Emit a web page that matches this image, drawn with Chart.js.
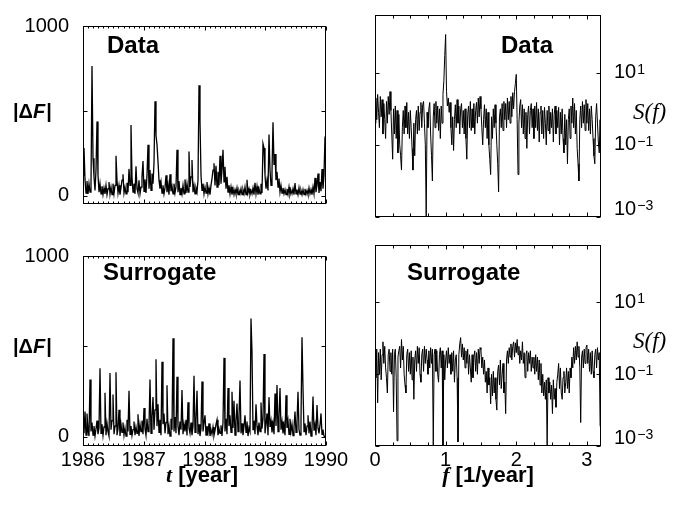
<!DOCTYPE html>
<html><head><meta charset="utf-8">
<script src="https://cdn.jsdelivr.net/npm/chart.js@4/dist/chart.umd.min.js"></script>
<style>
html,body{margin:0;padding:0;background:#fff;}
#wrap{position:relative;width:688px;height:506px;overflow:hidden;background:#fff;}
canvas{position:absolute;}
</style></head><body>
<div id="wrap">
<canvas id="tl" width="370" height="230" style="left:0;top:0;width:370px;height:230px"></canvas>
<canvas id="bl" width="370" height="276" style="left:0;top:230px;width:370px;height:276px"></canvas>
<canvas id="tr" width="344" height="230" style="left:344px;top:0;width:344px;height:230px"></canvas>
<canvas id="br" width="344" height="276" style="left:344px;top:230px;width:344px;height:276px"></canvas>
</div>
<script>
// ---------------- data ----------------
const T_START = 1986, T_END = 1990;
const YEAR_TICKS = [1986, 1987, 1988, 1989, 1990];
const DF_TICKS = [0, 500, 1000];
const F_MAX = 3.2;
const F_TICKS = [0, 1, 2, 3];
const S_TICKS = [1e-3, 1e-1, 1e1];

// |ΔF| of the data (evenly spaced in time from 1986 to 1990)
const dataAbsDF = [
120,280,95,15,85,10,70,20,60,764,
220,110,30,150,437,120,20,70,10,55,
5,45,10,60,5,40,80,8,50,5,
70,10,60,234,90,15,60,5,45,90,
125,15,50,10,75,20,157,60,416,110,
20,70,10,172,40,15,90,10,50,110,
203,25,95,15,120,300,40,150,30,130,
70,190,556,354,300,200,90,40,80,15,
60,10,45,120,20,65,5,125,25,55,
10,70,15,50,270,20,85,5,45,10,
60,10,95,15,70,20,260,50,110,210,
20,60,10,45,20,90,650,437,120,30,
70,10,50,15,80,10,45,5,60,100,
150,190,60,175,50,140,60,234,70,150,
270,80,170,40,110,20,60,10,50,5,
40,5,35,8,45,5,30,10,40,5,
35,10,50,5,93,15,40,5,30,10,
45,5,75,10,55,5,40,10,70,15,
306,280,120,40,90,30,360,150,60,140,
432,180,245,90,140,50,100,20,60,15,
45,10,35,5,40,8,50,5,30,10,
40,5,73,10,35,5,45,8,30,5,
35,5,40,8,30,5,45,10,35,5,
50,10,104,20,60,130,15,80,25,156,
40,120,348,180];

// |ΔF| of the surrogate
const surrogateAbsDF = [
60,20,140,10,130,40,5,317,30,80,
10,60,5,45,90,15,50,380,20,70,
8,55,244,10,75,30,5,353,40,90,
235,15,60,358,10,45,150,5,70,25,
80,10,50,5,95,30,255,15,60,8,
40,85,10,55,20,125,5,70,30,90,
15,160,45,8,100,30,60,317,20,110,
220,40,150,430,60,180,25,95,10,416,
70,130,20,80,286,15,60,5,100,40,
546,30,110,20,333,60,10,85,40,260,
15,70,30,95,8,192,50,20,80,10,
60,338,25,90,255,15,70,5,45,307,
30,80,120,10,60,25,75,5,40,15,
55,8,35,70,95,10,45,20,65,5,
80,437,30,100,15,270,60,120,25,250,
50,200,10,90,185,30,110,312,20,75,
10,60,120,25,85,5,50,30,655,468,
40,90,15,180,60,10,80,30,190,45,
100,458,20,70,130,10,220,55,90,25,
75,15,240,60,287,30,110,270,40,85,
20,65,10,230,50,90,15,100,30,70,
8,55,140,25,80,250,40,10,95,551,
270,30,75,10,60,120,20,85,5,45,
224,35,70,10,177,50,20,65,130,15,
40,5,2,0];

// S(f) of the data (evenly spaced in f from 0 to 3.2, step 0.0125)
const dataS = [
0.4,2.0,0.5,2.5,0.8,0.3,2.2,0.6,1.8,0.2,1.4,0.5,0.15,1.6,0.4,2.2,0.7,3.0,0.9,0.2,
0.04,1.0,0.2,1.2,0.15,0.9,0.06,0.7,0.1,0.05,0.02,0.3,0.9,0.2,1.2,0.3,1.5,0.2,0.8,0.15,
0.9,0.3,0.08,0.02,0.4,0.05,0.5,0.9,0.2,1.2,0.25,0.8,1.5,0.3,1.3,1.6,0.4,0.1,0.001,0.8,
0.3,1.0,1.5,0.2,0.05,0.01,0.6,1.4,0.3,1.6,0.4,1.2,0.25,1.0,0.15,1.2,0.4,2.5,6.0,30,
115,3.0,1.2,2.0,0.8,1.5,0.3,0.1,0.6,0.07,0.5,1.3,0.3,1.8,0.4,1.2,0.2,1.0,1.4,0.3,
0.9,0.2,1.0,0.15,0.04,0.7,1.2,0.3,1.6,0.25,1.0,0.3,1.4,0.2,0.9,1.5,0.4,2.0,0.6,2.2,
1.0,0.3,0.1,0.5,1.3,0.3,1.0,0.15,0.8,0.1,0.04,0.015,0.6,0.15,1.0,0.3,1.3,0.4,0.1,0.03,
0.005,0.6,1.0,0.3,1.4,0.25,1.6,0.5,1.4,0.3,2.0,0.5,1.6,0.4,2.2,0.6,2.8,1.0,3.0,5.0,
9.0,0.5,0.015,0.4,1.2,1.8,0.3,1.3,0.2,1.0,0.15,0.8,0.08,0.7,1.2,0.2,0.9,1.4,0.3,1.0,
0.15,1.2,0.3,1.5,0.25,1.0,0.12,0.8,1.2,0.2,0.9,0.15,1.1,0.4,0.1,0.9,0.25,1.2,0.2,0.8,
0.3,1.0,0.12,0.7,1.2,0.2,0.9,0.3,1.1,0.1,0.8,0.2,1.0,0.15,0.06,0.7,0.1,0.5,0.03,0.5,
1.0,0.15,1.2,0.4,2.0,0.3,1.4,0.2,0.9,0.08,0.03,0.01,0.5,1.2,0.3,1.6,0.4,1.3,0.25,1.8,
0.4,1.4,0.25,1.0,0.2,1.2,0.5,0.15,0.05,0.03,0.6,1.4,0.4,0.12,0.06,0.5,0.015];

// S(f) of the surrogate
const surrogateS = [
0.3,0.08,0.5,0.016,0.4,0.1,0.5,0.07,0.35,0.8,0.2,0.6,0.15,0.08,0.03,0.35,0.5,0.12,0.4,0.1,
0.5,0.009,0.35,0.5,0.08,0.0014,0.3,0.45,0.6,0.15,0.93,0.25,0.6,0.1,0.05,0.03,0.35,0.5,0.12,0.4,
0.1,0.45,0.07,0.3,0.02,0.25,0.45,0.12,0.6,0.2,0.55,0.1,0.06,0.35,0.5,0.12,0.6,0.2,0.5,0.25,
0.1,0.45,0.15,0.55,0.2,0.5,0.001,0.35,0.5,0.12,0.45,0.1,0.06,0.35,0.55,0.15,0.45,0.001,0.35,0.07,
0.25,0.45,0.15,0.55,0.2,0.35,0.1,0.4,0.12,0.45,0.06,0.25,0.35,0.08,0.0013,0.35,0.7,1.05,0.3,0.7,
0.25,0.55,0.15,0.45,0.2,0.5,0.1,0.35,0.15,0.06,0.35,0.08,0.3,0.45,0.12,0.4,0.1,0.5,0.2,0.55,
0.49,0.15,0.3,0.1,0.25,0.06,0.12,0.03,0.15,0.05,0.08,0.015,0.1,0.025,0.12,0.03,0.08,0.02,0.01,0.12,
0.18,0.05,0.25,0.04,0.1,0.2,0.03,0.06,0.008,0.25,0.45,0.2,0.55,0.3,0.7,0.25,0.6,0.8,0.3,0.75,
0.4,0.93,0.35,0.6,0.2,0.45,0.25,0.8,0.2,0.4,0.08,0.35,0.45,0.12,0.4,0.2,0.45,0.12,0.3,0.15,
0.3,0.1,0.35,0.12,0.3,0.07,0.25,0.05,0.2,0.03,0.1,0.025,0.06,0.02,0.07,0.001,0.08,0.03,0.06,0.02,
0.05,0.008,0.07,0.02,0.04,0.012,0.06,0.1,0.2,0.04,0.15,0.03,0.02,0.08,0.12,0.03,0.06,0.15,0.04,0.12,
0.03,0.15,0.08,0.3,0.15,0.55,0.2,0.6,0.25,0.8,0.3,0.6,0.15,0.0045,0.3,0.45,0.15,0.5,0.2,0.55,
0.65,0.2,0.5,0.12,0.4,0.1,0.45,0.12,0.08,0.35,0.5,0.15,0.55,0.25,0.4,0.0037,0.003];

// ---------------- rendering ----------------
const SANS = '"Liberation Sans", Arial, Helvetica, sans-serif';
const SERIF = '"Liberation Serif", "Times New Roman", serif';

function drawParts(ctx, parts, x, y, align) {
  let w = 0;
  for (const p of parts) { ctx.font = p.font; w += ctx.measureText(p.t).width + (p.dx || 0); }
  let cx = align === 'center' ? x - w / 2 : (align === 'right' ? x - w : x);
  for (const p of parts) {
    ctx.font = p.font;
    ctx.fillText(p.t, cx + (p.dx || 0), y + (p.dy || 0));
    cx += ctx.measureText(p.t).width + (p.dx || 0);
  }
}

const panelDecor = {
  id: 'panelDecor',
  afterDraw(chart, args, o) {
    const ctx = chart.ctx, a = chart.chartArea, xs = chart.scales.x, ys = chart.scales.y;
    ctx.save();
    ctx.strokeStyle = '#000';
    ctx.lineWidth = 1;
    const L = Math.round(a.left) + 0.5, R = Math.round(a.right) - 0.5;
    const T = Math.round(a.top) + 0.5, B = Math.round(a.bottom) - 0.5;
    ctx.beginPath();
    for (const t of o.xTicks) {
      const px = Math.round(xs.getPixelForValue(t.v)) + 0.5;
      const len = t.major ? o.xMajorLen : o.xMinorLen;
      ctx.moveTo(px, B); ctx.lineTo(px, B - len);
      ctx.moveTo(px, T); ctx.lineTo(px, T + len);
    }
    for (const v of o.yTicks) {
      const py = Math.round(ys.getPixelForValue(v)) + 0.5;
      ctx.moveTo(L, py); ctx.lineTo(L + o.yLen, py);
      ctx.moveTo(R, py); ctx.lineTo(R - o.yLen, py);
    }
    ctx.stroke();
    ctx.strokeRect(L, T, R - L, B - T);
    ctx.fillStyle = '#000';
    ctx.textBaseline = 'alphabetic';
    ctx.textAlign = 'left';
    for (const tx of o.texts) {
      let y = tx.y;
      if (tx.yValue !== undefined) y = ys.getPixelForValue(tx.yValue) + tx.dy;
      drawParts(ctx, tx.parts, tx.x, y, tx.align || 'left');
    }
    if (o.powerLabels) {
      for (const v of o.powerLabels) {
        const py = Math.min(ys.getPixelForValue(v), a.bottom - 8);
        const e = Math.round(Math.log10(v));
        const x0 = a.right + 13;
        ctx.font = '20px ' + SANS;
        ctx.textBaseline = 'middle';
        ctx.fillText('10', x0, py);
        const w = ctx.measureText('10').width;
        ctx.font = '14px ' + SANS;
        ctx.textBaseline = 'alphabetic';
        ctx.fillText(e < 0 ? '\u2212' + (-e) : String(e), x0 + w + 1, py + 1);
      }
    }
    ctx.restore();
  }
};

function timeTicks() {
  const out = [];
  const n = (T_END - T_START) * 12;
  for (let m = 0; m <= n; m++) out.push({ v: T_START + m / 12, major: m % 12 === 0 });
  return out;
}
function freqTicks() {
  const out = [];
  for (let k = 0; k * 0.25 <= F_MAX + 1e-9; k++) out.push({ v: k * 0.25, major: k % 4 === 0 });
  return out;
}

function absLabel() {
  return [
    { t: '|', font: 'bold 20px ' + SANS },
    { t: '\u0394', font: 'bold 20px ' + SANS },
    { t: 'F', font: 'italic bold 20px ' + SANS },
    { t: '|', font: 'bold 20px ' + SANS, dx: 1 }
  ];
}
function sLabel() {
  return [{ t: 'S(f)', font: 'italic 23px ' + SERIF }];
}

function timeChart(id, values, bottomPanel, title) {
  const n = values.length;
  const pts = values.map((v, i) => ({ x: T_START + i * (T_END - T_START) / (n - 1), y: v }));
  const texts = [
    { parts: [{ t: title, font: 'bold 24px ' + SANS }], x: bottomPanel ? 103 : 107, y: bottomPanel ? 50 : 53 },
    { parts: absLabel(), x: 13, yValue: 500, dy: 7 }
  ];
  if (bottomPanel) {
    texts.push({ parts: [
      { t: 't', font: 'italic bold 22px ' + SERIF },
      { t: ' [year]', font: 'bold 22px ' + SANS }
    ], x: 202, y: 252, align: 'center' });
  }
  return new Chart(document.getElementById(id), {
    type: 'line',
    data: { datasets: [{ data: pts, borderColor: '#000', borderWidth: 1.3, pointRadius: 0, tension: 0, fill: false }] },
    options: {
      responsive: false, animation: false, devicePixelRatio: 1,
      layout: { padding: { left: 0, top: 15, right: 370 - 326, bottom: 0 } },
      plugins: {
        legend: { display: false }, tooltip: { enabled: false },
        panelDecor: { xTicks: timeTicks(), xMajorLen: 4, xMinorLen: 2, yTicks: DF_TICKS, yLen: 4, texts }
      },
      scales: {
        x: {
          type: 'linear', min: T_START, max: T_END,
          afterBuildTicks: s => { s.ticks = YEAR_TICKS.map(v => ({ value: v })); },
          ticks: { display: bottomPanel, color: '#000', font: { family: SANS, size: 20 }, padding: 2, maxRotation: 0, autoSkip: false, callback: v => String(v) },
          grid: { display: false, drawTicks: false }, border: { display: false },
          afterFit: s => { s.height = bottomPanel ? 276 - 216 : 230 - 217; }
        },
        y: {
          type: 'linear', min: -50, max: 1000,
          afterBuildTicks: s => { s.ticks = DF_TICKS.map(v => ({ value: v })); },
          ticks: { color: '#000', font: { family: SANS, size: 20 }, padding: 14, callback: v => (v === 500 ? '' : String(v)) },
          grid: { display: false, drawTicks: false }, border: { display: false },
          afterFit: s => { s.width = 83; }
        }
      }
    },
    plugins: [panelDecor]
  });
}

function specChart(id, values, bottomPanel, title) {
  const n = values.length;
  const pts = values.map((v, i) => ({ x: i * F_MAX / (n - 1), y: v }));
  const texts = [
    { parts: [{ t: title, font: 'bold 24px ' + SANS }], x: bottomPanel ? 63 : 157, y: bottomPanel ? 50 : 53 },
    { parts: sLabel(), x: 289, yValue: 1, dy: 10 }
  ];
  if (bottomPanel) {
    texts.push({ parts: [
      { t: 'f', font: 'italic bold 22px ' + SERIF },
      { t: ' [1/year]', font: 'bold 22px ' + SANS }
    ], x: 144, y: 252, align: 'center' });
  }
  return new Chart(document.getElementById(id), {
    type: 'line',
    data: { datasets: [{ data: pts, borderColor: '#000', borderWidth: 1, pointRadius: 0, tension: 0, fill: false }] },
    options: {
      responsive: false, animation: false, devicePixelRatio: 1,
      layout: { padding: { left: 31, top: 15, right: 0, bottom: 0 } },
      plugins: {
        legend: { display: false }, tooltip: { enabled: false },
        panelDecor: { xTicks: freqTicks(), xMajorLen: 4, xMinorLen: 3, yTicks: S_TICKS, yLen: 4, texts, powerLabels: S_TICKS }
      },
      scales: {
        x: {
          type: 'linear', min: 0, max: F_MAX,
          afterBuildTicks: s => { s.ticks = F_TICKS.map(v => ({ value: v })); },
          ticks: { display: bottomPanel, color: '#000', font: { family: SANS, size: 20 }, padding: 2, maxRotation: 0, autoSkip: false, callback: v => String(v) },
          grid: { display: false, drawTicks: false }, border: { display: false },
          afterFit: s => { s.height = bottomPanel ? 276 - 216 : 230 - 217; }
        },
        y: {
          type: 'logarithmic', position: 'right', min: 1e-3, max: 400,
          afterBuildTicks: s => { s.ticks = S_TICKS.map(v => ({ value: v })); },
          ticks: { display: false },
          grid: { display: false, drawTicks: false }, border: { display: false },
          afterFit: s => { s.width = 344 - 257; }
        }
      }
    },
    plugins: [panelDecor]
  });
}

timeChart('tl', dataAbsDF, false, 'Data');
timeChart('bl', surrogateAbsDF, true, 'Surrogate');
specChart('tr', dataS, false, 'Data');
specChart('br', surrogateS, true, 'Surrogate');
</script>
</body></html>
